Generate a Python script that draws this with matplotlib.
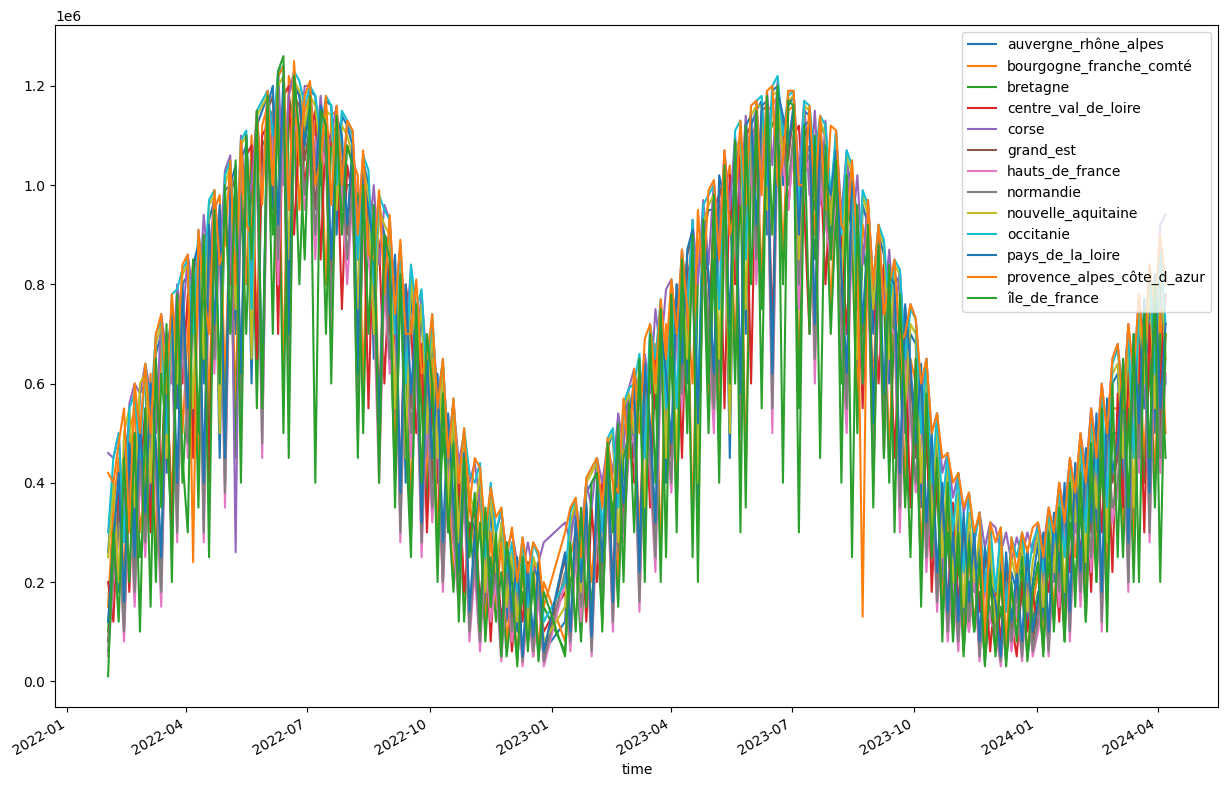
import matplotlib.pyplot as plt
import numpy as np
import pandas as pd

# Sampling dates (every 4 days, no data over the new year break)
dates = pd.date_range("2022-02-01", "2024-04-07", freq="4D")
dates = dates[(dates < "2022-12-29") | (dates > "2023-01-10")]

# Daily production per region, in units of 10 000
auvergne_rhone_alpes = [
    26, 40, 18, 45, 52, 30, 58,
    60, 35, 66, 70, 42, 75, 55, 80,
    82, 50, 88, 60, 93, 97, 45, 99,
    100, 70, 105, 108, 60, 112, 115,
    118, 95, 122, 124, 80, 120, 118, 110,
    119, 118, 100, 117, 116, 90, 114, 112,
    108, 70, 105, 100, 65, 96, 90,
    88, 50, 85, 40, 80, 60, 75, 45,
    70, 40, 62, 30, 52, 25, 48, 35,
    30, 40, 15, 35, 20, 30, 12,
    25, 10, 27, 8, 24, 20, 6,
    12, 30, 35, 15, 38, 40,
    42, 20, 47, 50, 25, 54, 57,
    45, 62, 30, 68, 55, 72, 40,
    75, 40, 82, 60, 88, 35, 90, 95,
    95, 60, 100, 45, 105, 110, 70, 112,
    115, 117, 90, 119, 120, 100, 116,
    118, 80, 115, 114, 95, 112, 110, 88,
    108, 75, 104, 100, 60, 96, 92, 70,
    90, 86, 60, 82, 80, 50, 70,
    68, 35, 60, 25, 50, 20, 42, 15,
    35, 12, 30, 18, 28, 8, 25,
    10, 25, 6, 22, 18, 28, 12, 20,
    28, 12, 33, 20, 36, 15, 42, 30,
    45, 20, 50, 30, 55, 25, 60,
    62, 40, 68, 30, 72, 55, 78, 50,
    82, 60,
]
bourgogne_franche_comte = [
    15, 35, 45, 20, 50, 55, 30,
    40, 62, 25, 70, 60, 35, 78, 50,
    70, 85, 40, 90, 55, 95, 98, 60,
    95, 55, 104, 80, 110, 70, 112,
    116, 100, 120, 60, 122, 118, 95, 115,
    118, 110, 112, 80, 114, 115, 100, 108,
    105, 102, 60, 98, 95, 55, 90,
    80, 45, 82, 70, 35, 75, 60, 40,
    65, 30, 55, 40, 20, 45, 15, 38,
    25, 38, 10, 30, 15, 28, 8,
    18, 5, 22, 10, 25, 6, 20,
    8, 25, 30, 10, 35, 20,
    35, 15, 45, 40, 20, 50, 55,
    55, 30, 60, 45, 68, 25, 72,
    70, 40, 78, 85, 30, 88, 92, 55,
    90, 50, 98, 104, 65, 108, 40, 110,
    112, 80, 115, 116, 118, 85, 115,
    116, 60, 112, 110, 90, 108, 105, 75,
    100, 65, 102, 95, 55, 92, 85, 60,
    85, 82, 45, 78, 70, 40, 65,
    60, 25, 55, 30, 45, 15, 35, 10,
    30, 8, 25, 12, 22, 6, 20,
    8, 20, 5, 18, 12, 22, 6, 15,
    22, 8, 28, 15, 30, 10, 38, 25,
    40, 15, 45, 25, 50, 20, 55,
    55, 30, 60, 25, 65, 45, 70, 40,
    75, 50,
]
bretagne = [
    10, 30, 40, 15, 45, 50, 25,
    35, 55, 20, 62, 50, 30, 70, 40,
    60, 80, 35, 85, 45, 88, 92, 50,
    90, 45, 98, 70, 105, 55, 108,
    110, 90, 115, 50, 118, 112, 80, 110,
    115, 105, 108, 70, 110, 112, 95, 100,
    100, 98, 50, 95, 90, 45, 85,
    75, 40, 78, 65, 30, 70, 55, 35,
    60, 25, 50, 35, 18, 40, 12, 32,
    20, 32, 8, 25, 12, 22, 5,
    15, 4, 18, 8, 20, 5, 15,
    6, 20, 25, 8, 30, 15,
    30, 12, 40, 35, 15, 45, 50,
    50, 25, 55, 40, 62, 20, 68,
    65, 35, 72, 80, 25, 82, 88, 50,
    85, 45, 92, 100, 60, 104, 35, 105,
    108, 75, 110, 112, 115, 80, 110,
    112, 55, 108, 105, 85, 104, 100, 70,
    95, 60, 98, 90, 50, 88, 80, 55,
    80, 78, 40, 74, 65, 35, 60,
    55, 20, 50, 25, 40, 12, 30, 8,
    25, 6, 20, 10, 18, 4, 15,
    6, 15, 4, 14, 10, 18, 5, 12,
    18, 6, 24, 12, 26, 8, 32, 20,
    35, 12, 40, 20, 45, 15, 50,
    50, 25, 55, 20, 60, 40, 65, 35,
    70, 45,
]
centre_val_de_loire = [
    20, 12, 38, 42, 18, 48, 40,
    55, 30, 64, 40, 70, 25, 75, 60,
    78, 45, 85, 88, 40, 92, 60, 96,
    80, 100, 50, 106, 108, 65, 110,
    112, 115, 70, 118, 120, 90, 112, 100,
    110, 115, 85, 112, 108, 110, 75, 104,
    98, 85, 100, 55, 95, 88, 60,
    85, 70, 40, 80, 72, 50, 68, 30,
    55, 45, 20, 50, 28, 42, 18, 30,
    35, 15, 30, 8, 28, 12, 22,
    6, 20, 12, 24, 5, 18, 10,
    18, 8, 28, 32, 12, 35,
    20, 40, 45, 18, 48, 30, 55,
    40, 60, 58, 35, 65, 70, 45,
    72, 78, 45, 82, 86, 40, 90, 70,
    95, 98, 55, 102, 80, 106, 108, 60,
    110, 100, 112, 70, 115, 113, 95,
    110, 112, 95, 70, 108, 106, 80, 100,
    98, 90, 70, 96, 88, 55, 85, 80,
    60, 84, 75, 45, 72, 68, 35,
    65, 40, 52, 18, 42, 30, 15, 36,
    15, 30, 10, 25, 14, 22, 6,
    20, 8, 22, 12, 5, 20, 10, 18,
    10, 25, 18, 28, 12, 34, 22, 38,
    25, 42, 18, 48, 30, 52, 22,
    58, 35, 62, 45, 68, 30, 72, 55,
    60, 78,
]
corse = [
    46, 45, 50, 30, 56, 60, 58,
    64, 58, 50, 74, 66, 60, 80, 72,
    86, 78, 75, 94, 82, 99, 85, 103,
    106, 26, 110, 95, 100, 115, 98,
    119, 105, 123, 100, 118, 123, 108, 120,
    120, 104, 118, 106, 110, 116, 98, 113,
    111, 92, 106, 88, 100, 84, 96,
    93, 76, 88, 70, 83, 68, 78, 64,
    72, 58, 64, 48, 56, 44, 50, 40,
    44, 36, 30, 38, 30, 34, 26,
    30, 24, 22, 28, 22, 24, 28,
    32, 28, 36, 30, 40, 35,
    45, 40, 48, 42, 54, 47, 59,
    63, 56, 66, 58, 75, 66, 79,
    81, 70, 87, 75, 93, 80, 97, 84,
    101, 88, 107, 95, 110, 96, 114, 100,
    117, 100, 119, 104, 121, 102, 119,
    119, 102, 117, 98, 115, 96, 113, 95,
    111, 94, 107, 90, 102, 84, 97, 80,
    92, 75, 87, 72, 83, 66, 76,
    73, 58, 65, 50, 54, 42, 46, 37,
    42, 34, 38, 28, 34, 27, 32,
    31, 26, 30, 24, 29, 25, 30, 26,
    32, 27, 35, 30, 40, 34, 45, 38,
    50, 42, 55, 47, 60, 50, 65,
    68, 57, 72, 61, 78, 66, 84, 72,
    92, 94,
]
grand_est = [
    8, 25, 35, 12, 42, 20, 48,
    30, 58, 45, 22, 65, 72, 35, 78,
    50, 82, 88, 35, 90, 70, 95, 40,
    98, 102, 60, 108, 85, 112, 55,
    115, 118, 90, 120, 65, 118, 116, 105,
    112, 95, 114, 110, 80, 112, 108, 90,
    105, 60, 100, 92, 85, 50, 88,
    70, 85, 35, 78, 55, 72, 30, 65,
    40, 60, 25, 52, 35, 20, 45, 12,
    28, 10, 32, 18, 25, 6, 26,
    12, 24, 4, 20, 8, 22, 5,
    25, 10, 32, 18, 35, 8,
    38, 22, 45, 15, 50, 35, 52,
    58, 20, 62, 50, 30, 70, 60,
    45, 80, 62, 86, 90, 50, 92, 80,
    60, 100, 95, 70, 108, 55, 110, 112,
    90, 115, 116, 60, 118, 112, 105,
    115, 88, 110, 112, 70, 110, 100, 95,
    105, 80, 60, 100, 92, 70, 90, 50,
    88, 55, 80, 78, 40, 74, 62,
    45, 62, 30, 48, 20, 38, 12, 28,
    10, 32, 15, 28, 6, 25, 18,
    14, 4, 24, 10, 20, 6, 25, 8,
    15, 28, 8, 32, 20, 38, 12, 42,
    20, 45, 30, 52, 15, 55, 40,
    45, 62, 25, 68, 50, 75, 35, 80,
    50, 70,
]
hauts_de_france = [
    5, 20, 30, 8, 38, 15, 42,
    25, 50, 40, 15, 60, 68, 28, 72,
    45, 75, 82, 28, 86, 62, 90, 35,
    92, 96, 50, 100, 78, 105, 45,
    110, 112, 80, 115, 55, 112, 110, 95,
    105, 85, 108, 104, 70, 106, 100, 80,
    98, 50, 92, 85, 75, 40, 80,
    62, 78, 28, 70, 45, 65, 25, 55,
    32, 52, 18, 45, 28, 15, 38, 8,
    22, 6, 26, 12, 20, 4, 20,
    8, 18, 3, 15, 5, 17, 3,
    20, 6, 26, 12, 30, 5,
    32, 15, 38, 10, 44, 28, 46,
    50, 14, 55, 42, 22, 62, 52,
    38, 72, 55, 78, 82, 40, 85, 70,
    50, 92, 88, 60, 100, 45, 102, 105,
    80, 108, 110, 50, 112, 105, 95,
    108, 75, 102, 105, 60, 102, 92, 85,
    98, 70, 50, 92, 85, 60, 82, 40,
    80, 45, 72, 70, 30, 66, 52,
    38, 55, 22, 40, 14, 30, 8, 22,
    6, 26, 10, 22, 4, 20, 12,
    10, 3, 18, 6, 15, 4, 20, 5,
    10, 22, 5, 26, 15, 32, 8, 36,
    15, 38, 22, 45, 10, 48, 32,
    38, 55, 18, 60, 42, 68, 28, 72,
    42, 62,
]
normandie = [
    6, 22, 32, 10, 40, 18, 45,
    28, 52, 42, 18, 62, 70, 30, 74,
    48, 78, 85, 30, 88, 65, 92, 38,
    95, 98, 55, 104, 80, 108, 48,
    112, 115, 85, 118, 60, 115, 112, 98,
    108, 90, 110, 106, 75, 108, 104, 85,
    100, 55, 95, 88, 80, 45, 84,
    65, 80, 30, 72, 50, 68, 28, 60,
    35, 55, 20, 48, 30, 18, 40, 10,
    25, 8, 28, 15, 22, 5, 22,
    10, 20, 4, 18, 6, 20, 4,
    22, 8, 28, 15, 32, 6,
    35, 18, 40, 12, 46, 30, 48,
    52, 16, 58, 45, 25, 65, 55,
    40, 75, 58, 80, 85, 42, 88, 72,
    55, 95, 90, 65, 104, 50, 105, 108,
    85, 110, 112, 55, 115, 108, 100,
    110, 80, 105, 108, 65, 105, 95, 88,
    100, 72, 55, 95, 88, 65, 85, 45,
    84, 50, 76, 74, 35, 70, 55,
    40, 58, 25, 44, 16, 34, 10, 25,
    8, 28, 12, 25, 5, 22, 14,
    12, 4, 20, 8, 18, 5, 22, 6,
    12, 25, 6, 28, 18, 35, 10, 38,
    18, 40, 25, 48, 12, 50, 35,
    40, 58, 20, 64, 45, 72, 30, 76,
    45, 65,
]
nouvelle_aquitaine = [
    25, 40, 20, 50, 55, 35, 60,
    62, 40, 68, 72, 45, 76, 60, 82,
    84, 55, 90, 65, 96, 98, 50, 100,
    104, 75, 108, 110, 65, 114, 116,
    118, 100, 120, 122, 85, 121, 119, 112,
    118, 116, 105, 115, 114, 95, 112, 110,
    106, 75, 104, 98, 70, 95, 92,
    90, 55, 86, 45, 82, 65, 76, 50,
    72, 45, 63, 35, 54, 28, 50, 38,
    34, 42, 18, 38, 22, 32, 15,
    26, 12, 28, 10, 25, 22, 8,
    15, 32, 36, 18, 40, 42,
    44, 24, 48, 50, 28, 55, 58,
    50, 64, 35, 70, 58, 74, 45,
    78, 45, 84, 65, 90, 40, 92, 96,
    98, 65, 102, 50, 106, 110, 75, 114,
    116, 116, 95, 118, 119, 105, 117,
    118, 85, 116, 115, 100, 113, 110, 92,
    110, 80, 106, 102, 65, 98, 94, 75,
    91, 88, 65, 84, 82, 55, 72,
    70, 40, 62, 30, 52, 25, 44, 20,
    38, 15, 34, 20, 30, 10, 28,
    12, 28, 8, 25, 20, 28, 14, 24,
    30, 15, 34, 22, 38, 18, 44, 32,
    48, 24, 52, 35, 58, 28, 62,
    64, 45, 70, 35, 75, 60, 80, 55,
    85, 65,
]
occitanie = [
    30, 45, 50, 28, 55, 58, 45,
    64, 55, 70, 73, 50, 78, 79, 83,
    85, 70, 91, 80, 97, 99, 60, 102,
    105, 85, 109, 111, 75, 115, 117,
    119, 110, 123, 124, 95, 123, 121, 116,
    120, 118, 110, 118, 116, 100, 115, 113,
    110, 85, 106, 103, 80, 98, 95,
    93, 70, 88, 60, 84, 75, 79, 60,
    74, 55, 65, 45, 57, 40, 51, 42,
    40, 44, 25, 40, 30, 35, 22,
    28, 18, 29, 15, 28, 25, 12,
    20, 34, 37, 22, 41, 43,
    45, 30, 49, 51, 35, 56, 59,
    60, 66, 45, 72, 65, 77, 55,
    81, 55, 87, 75, 93, 55, 96, 98,
    100, 75, 106, 65, 111, 113, 85, 116,
    117, 118, 100, 120, 122, 110, 118,
    119, 95, 117, 116, 105, 114, 112, 98,
    111, 90, 107, 104, 75, 99, 96, 80,
    92, 89, 75, 85, 83, 65, 75,
    73, 50, 65, 40, 54, 35, 46, 30,
    42, 22, 38, 28, 34, 18, 32,
    18, 31, 14, 29, 25, 30, 20, 28,
    31, 22, 34, 28, 39, 25, 44, 38,
    49, 30, 54, 42, 59, 35, 64,
    67, 55, 71, 45, 77, 68, 83, 62,
    88, 72,
]
pays_de_la_loire = [
    12, 28, 42, 16, 48, 25, 52,
    34, 60, 48, 25, 66, 74, 40, 80,
    55, 84, 88, 40, 92, 72, 96, 45,
    100, 104, 62, 110, 88, 114, 58,
    116, 120, 92, 122, 70, 120, 118, 108,
    116, 100, 116, 112, 85, 114, 110, 92,
    108, 62, 102, 95, 88, 52, 90,
    74, 86, 38, 80, 58, 74, 32, 66,
    45, 62, 28, 54, 36, 22, 46, 14,
    30, 12, 34, 18, 27, 8, 28,
    14, 25, 5, 22, 9, 24, 6,
    26, 10, 33, 20, 36, 9,
    40, 24, 46, 16, 51, 36, 54,
    60, 22, 64, 52, 32, 72, 62,
    48, 80, 64, 87, 91, 52, 93, 82,
    62, 102, 97, 72, 109, 58, 112, 114,
    92, 116, 117, 62, 119, 114, 108,
    116, 90, 112, 113, 72, 111, 102, 98,
    107, 82, 62, 101, 94, 72, 91, 52,
    89, 58, 82, 80, 42, 76, 64,
    48, 64, 32, 50, 22, 40, 14, 30,
    12, 34, 16, 30, 8, 27, 20,
    16, 5, 26, 12, 22, 8, 27, 10,
    16, 30, 10, 34, 22, 40, 14, 44,
    22, 47, 32, 54, 18, 57, 42,
    48, 64, 28, 70, 52, 77, 38, 82,
    55, 72,
]
provence_alpes_cote_d_azur = [
    42, 40, 48, 55, 30, 60, 50,
    64, 50, 70, 74, 58, 78, 65, 84,
    86, 24, 91, 78, 70, 99, 84, 88,
    105, 80, 109, 92, 90, 115, 96,
    119, 100, 122, 124, 95, 125, 104, 118,
    121, 100, 105, 118, 96, 116, 100, 113,
    111, 90, 107, 86, 85, 99, 78,
    94, 74, 89, 70, 70, 81, 62, 65,
    74, 55, 65, 45, 57, 40, 51, 35,
    45, 43, 30, 39, 33, 35, 25,
    31, 20, 29, 22, 28, 26, 15,
    30, 35, 37, 25, 41, 43,
    45, 35, 49, 40, 38, 57, 45,
    63, 50, 69, 72, 60, 77, 65,
    81, 70, 87, 75, 60, 95, 80, 99,
    101, 85, 107, 90, 95, 113, 96, 116,
    117, 98, 119, 120, 100, 105, 119,
    119, 100, 100, 116, 97, 114, 95, 112,
    111, 92, 90, 105, 88, 13, 97, 80,
    92, 74, 80, 85, 68, 70, 76,
    73, 60, 65, 50, 54, 45, 46, 40,
    42, 35, 38, 30, 34, 8, 32,
    28, 31, 5, 29, 22, 30, 26, 31,
    32, 25, 35, 30, 40, 32, 45, 38,
    50, 40, 55, 45, 60, 50, 65,
    68, 55, 72, 62, 78, 65, 84, 75,
    90, 80,
]
ile_de_france = [
    1, 30, 12, 45, 20, 50, 10,
    55, 15, 65, 35, 72, 20, 78, 45,
    30, 85, 50, 90, 25, 95, 60, 100,
    70, 105, 40, 110, 85, 115, 55,
    118, 70, 123, 126, 45, 122, 110, 85,
    118, 40, 115, 112, 60, 114, 90, 108,
    104, 45, 100, 70, 96, 40, 90,
    85, 35, 82, 50, 25, 76, 40, 70,
    60, 20, 58, 30, 48, 12, 45, 25,
    38, 10, 35, 15, 30, 5, 28,
    20, 3, 25, 6, 22, 4, 18,
    5, 28, 10, 35, 15, 40,
    42, 10, 48, 30, 52, 20, 56,
    30, 65, 20, 70, 40, 75, 25,
    78, 30, 85, 50, 90, 20, 93, 60,
    98, 40, 104, 60, 109, 30, 112, 80,
    115, 55, 118, 90, 120, 40, 117,
    116, 30, 112, 70, 110, 45, 108, 85,
    105, 40, 102, 25, 96, 60, 92, 35,
    88, 45, 84, 30, 78, 55, 25,
    65, 15, 58, 25, 45, 8, 40, 12,
    30, 5, 28, 10, 25, 3, 22,
    5, 22, 3, 20, 8, 25, 4, 18,
    24, 5, 30, 10, 35, 8, 40, 15,
    42, 12, 48, 20, 55, 10, 60,
    25, 65, 35, 70, 20, 75, 45, 80,
    20, 70,
]

regions = [
    ("auvergne_rhône_alpes", auvergne_rhone_alpes),
    ("bourgogne_franche_comté", bourgogne_franche_comte),
    ("bretagne", bretagne),
    ("centre_val_de_loire", centre_val_de_loire),
    ("corse", corse),
    ("grand_est", grand_est),
    ("hauts_de_france", hauts_de_france),
    ("normandie", normandie),
    ("nouvelle_aquitaine", nouvelle_aquitaine),
    ("occitanie", occitanie),
    ("pays_de_la_loire", pays_de_la_loire),
    ("provence_alpes_côte_d_azur", provence_alpes_cote_d_azur),
    ("île_de_france", ile_de_france),
]

fig, ax = plt.subplots(figsize=(12.27, 7.85), dpi=100)

# One line per region, default colour cycle
for name, values in regions:
    n = min(len(values), len(dates))
    ax.plot(dates[:n], np.array(values[:n]) * 1e4, label=name)

ax.set_xlabel("time")
ax.legend(loc="upper right")
fig.autofmt_xdate()
fig.subplots_adjust(left=0.045, right=0.993, top=0.968, bottom=0.099)

fig.savefig("out.png", dpi=100)
